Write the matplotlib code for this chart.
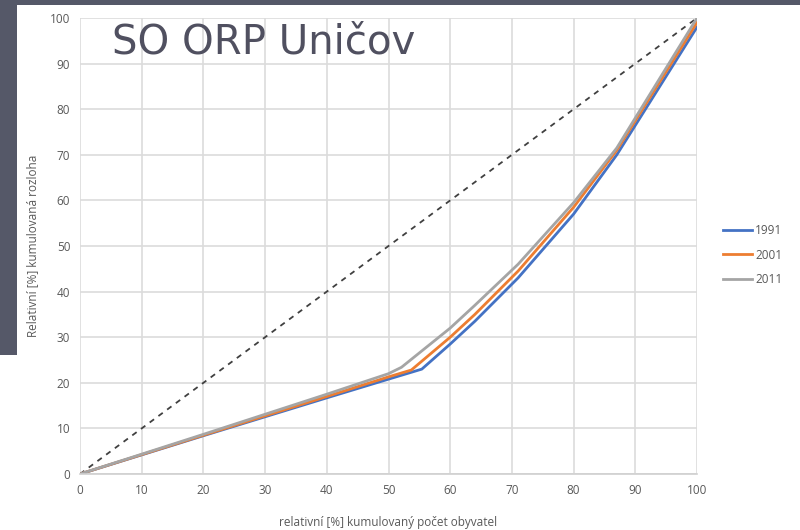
import matplotlib
matplotlib.use("Agg")
import matplotlib.pyplot as plt
from matplotlib.patches import Rectangle

x_1991 = [0, 20, 40, 50, 55.4, 60, 64, 71, 80, 87, 100]
y_1991 = [0, 8.4, 16.7, 20.8, 23.0, 28.5, 33.5, 43, 57, 70, 98]
x_2001 = [0, 20, 40, 50, 53.7, 60, 64, 71, 80, 87, 100]
y_2001 = [0, 8.5, 17.0, 21.3, 22.8, 30, 35, 44.5, 58.5, 71, 99]
x_2011 = [0, 20, 40, 50, 52.1, 60, 64, 71, 80, 87, 100]
y_2011 = [0, 8.7, 17.5, 22.0, 23.4, 32, 37, 46, 59.5, 71.5, 100]
years = ["1991", "2001", "2011"]
colors = ["#4472c4", "#ed7d31", "#a5a5a5"]
diag = [0, 100]
xticks = list(range(0, 101, 10))
yticks = list(range(0, 101, 10))

plt.rcParams['font.family'] = ['Open Sans', 'DejaVu Sans']
fig = plt.figure(figsize=(8, 5.3), dpi=100)
fig.patch.set_facecolor("white")
fig.patches.append(Rectangle((0, 1 - 5/530), 1, 5/530, transform=fig.transFigure,
                             facecolor="#555868", edgecolor="none", zorder=0))
fig.patches.append(Rectangle((0, 1 - 355/530), 17/800, 355/530, transform=fig.transFigure,
                             facecolor="#555868", edgecolor="none", zorder=0))

ax = fig.add_axes([80/800, 1 - 474/530, (697-80)/800, (474-18)/530])
ax.set_xlim(0, 100)
ax.set_ylim(0, 100)
ax.set_xticks(xticks)
ax.set_yticks(yticks)
ax.grid(True, color="#dcdcdc", linewidth=1.2)
ax.set_axisbelow(True)
for s in ["top", "right", "left"]:
    ax.spines[s].set_visible(False)
ax.spines["bottom"].set_color("#d0d0d0")
ax.spines["bottom"].set_linewidth(1.2)
ax.tick_params(length=0, labelsize=8.5, colors="#595959", pad=7)

ax.plot(diag, diag, linestyle=(0, (3, 3)), color="#404040", linewidth=1.3)
for xs, ys, yr, c in zip([x_1991, x_2001, x_2011], [y_1991, y_2001, y_2011], years, colors):
    ax.plot(xs, ys, color=c, linewidth=2, label=yr)

ax.set_xlabel("relativní [%] kumulovaný počet obyvatel", fontsize=8.5, color="#595959", labelpad=14)
ax.set_ylabel("Relativní [%] kumulovaná rozloha", fontsize=8.5, color="#595959", labelpad=8)

leg = ax.legend(loc="center left", bbox_to_anchor=(1.035, 0.48), frameon=False,
                fontsize=8.5, labelcolor="#595959", handlelength=2.4, handletextpad=0.3,
                labelspacing=1.0, borderaxespad=0)

fig.text(112/800, 1 - 42/530, "SO ORP Uničov", fontsize=29, color="#505060",
         va="center", ha="left", family=["Liberation Sans Narrow", "DejaVu Sans"])

fig.savefig("out.png", dpi=100)
